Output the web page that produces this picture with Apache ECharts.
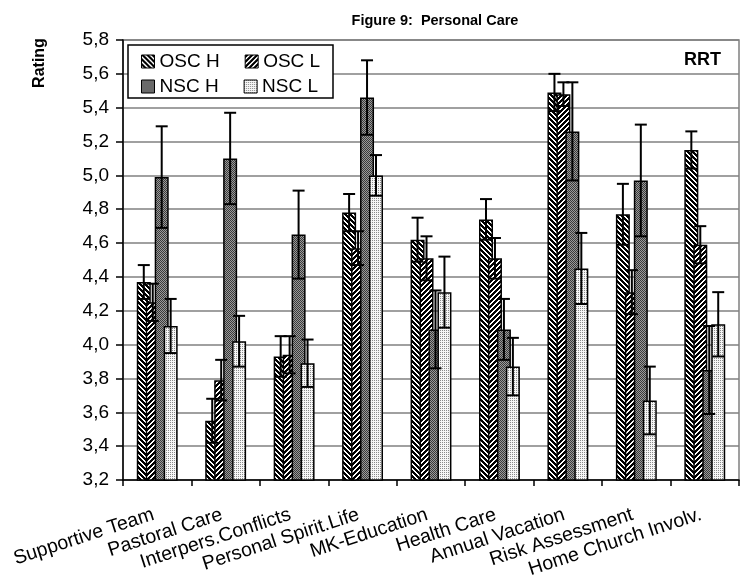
<!DOCTYPE html>
<html>
<head>
<meta charset="utf-8">
<script src="https://cdn.jsdelivr.net/npm/echarts@6/dist/echarts.min.js"></script>
<style>
html,body{margin:0;padding:0;background:#fff;}
#chart{width:742px;height:580px;}
</style>
</head>
<body>
<div id="chart"></div>
<script>
const categories = ['Supportive Team','Pastoral Care','Interpers.Conflicts','Personal Spirit.Life','MK-Education','Health Care','Annual Vacation','Risk Assessment','Home Church Involv.'];
const seriesNames = ['OSC H','OSC L','NSC H','NSC L'];
const oscH    = [4.37, 3.55, 3.93, 4.78, 4.62, 4.74, 5.49, 4.77, 5.15];
const oscHErr = [0.10, 0.13, 0.12, 0.11, 0.13, 0.12, 0.11, 0.18, 0.11];
const oscL    = [4.25, 3.79, 3.94, 4.57, 4.51, 4.51, 5.48, 4.31, 4.59];
const oscLErr = [0.11, 0.12, 0.11, 0.10, 0.13, 0.12, 0.07, 0.13, 0.11];
const nscH    = [4.99, 5.10, 4.65, 5.46, 4.09, 4.09, 5.26, 4.97, 3.85];
const nscHErr = [0.30, 0.27, 0.26, 0.22, 0.23, 0.18, 0.29, 0.33, 0.26];
const nscL    = [4.11, 4.02, 3.89, 5.00, 4.31, 3.87, 4.45, 3.67, 4.12];
const nscLErr = [0.16, 0.15, 0.14, 0.12, 0.21, 0.17, 0.21, 0.20, 0.19];
const yTicks = [3.2, 5.8, 0.2]; // min, max, interval

const FONT = '"Liberation Sans", Arial, sans-serif';

function makePattern(size, fn) {
  const c = document.createElement('canvas');
  c.width = size; c.height = size;
  const ctx = c.getContext('2d');
  for (let y = 0; y < size; y++) for (let x = 0; x < size; x++) {
    ctx.fillStyle = fn(x, y);
    ctx.fillRect(x, y, 1, 1);
  }
  return { image: c, repeat: 'repeat' };
}
const patterns = [
  makePattern(5, (x, y) => ((x - y + 10) % 5) < 3 ? '#000' : '#fff'),
  makePattern(5, (x, y) => ((x + y) % 5) < 3 ? '#000' : '#fff'),
  makePattern(2, (x, y) => ((x + y) % 2 === 0) ? '#3a3a3a' : '#9a9a9a'),
  makePattern(2, (x, y) => (x % 2 === 0 && y % 2 === 0) ? '#8a8a8a' : '#f6f6f6')
];

const values = [oscH, oscL, nscH, nscL];
const errs = [oscHErr, oscLErr, nscHErr, nscLErr];

const BAR_W = 14;
const GAP_RATIO = -0.36;
const step = BAR_W * (1 + GAP_RATIO);
const total = 4 * BAR_W + 3 * BAR_W * GAP_RATIO;
const offsets = [0,1,2,3].map(k => -total / 2 + BAR_W / 2 + k * step);

const series = [];
seriesNames.forEach((name, k) => {
  series.push({
    name: name,
    type: 'bar',
    data: values[k],
    barWidth: BAR_W,
    barGap: (GAP_RATIO * 100) + '%',
    itemStyle: { color: patterns[k], borderColor: '#000', borderWidth: 1.5 },
    emphasis: { disabled: true },
    animation: false,
    z: 2
  });
});
seriesNames.forEach((name, k) => {
  series.push({
    name: 'err ' + name,
    type: 'custom',
    data: categories.map((c, i) => [i, values[k][i], errs[k][i]]),
    encode: { x: 0, y: 1 },
    z: 5,
    animation: false,
    silent: true,
    renderItem: function (params, api) {
      const ci = api.value(0), v = api.value(1), e = api.value(2);
      const p1 = api.coord([ci, v + e]);
      const p2 = api.coord([ci, v - e]);
      const x = p1[0] + offsets[k];
      const hw = 6;
      const st = { stroke: '#000', lineWidth: 2 };
      return {
        type: 'group',
        children: [
          { type: 'line', shape: { x1: x, y1: p1[1], x2: x, y2: p2[1] }, style: st },
          { type: 'line', shape: { x1: x - hw, y1: p1[1], x2: x + hw, y2: p1[1] }, style: st },
          { type: 'line', shape: { x1: x - hw, y1: p2[1], x2: x + hw, y2: p2[1] }, style: st }
        ]
      };
    }
  });
});

const legendCommon = {
  orient: 'horizontal',
  left: 141,
  itemWidth: 13,
  itemHeight: 13,
  itemGap: 25,
  icon: 'rect',
  selectedMode: false,
  itemStyle: { borderColor: '#000', borderWidth: 1 },
  textStyle: { fontSize: 19, color: '#000', fontFamily: FONT },
  padding: 0
};

const chart = echarts.init(document.getElementById('chart'), null, { renderer: 'canvas' });
chart.setOption({
  backgroundColor: '#fff',
  animation: false,
  title: {
    text: 'Figure 9:  Personal Care',
    left: 430,
    textAlign: 'center',
    top: 8,
    textStyle: { fontSize: 14.5, fontWeight: 'bold', color: '#000', fontFamily: FONT }
  },
  legend: [
    Object.assign({}, legendCommon, { data: ['OSC H', 'OSC L'], top: 52 }),
    Object.assign({}, legendCommon, { data: ['NSC H', 'NSC L'], top: 77 })
  ],
  grid: {
    left: 123, right: 3, top: 40, bottom: 100,
    containLabel: false,
    outerBoundsMode: 'none',
    show: true, borderColor: '#808080', borderWidth: 1.5, backgroundColor: '#fff'
  },
  xAxis: {
    type: 'category',
    data: categories,
    axisLine: { show: true, lineStyle: { color: '#000', width: 1.5 } },
    axisTick: { show: true, alignWithLabel: false, interval: 0, length: 6, lineStyle: { color: '#000', width: 1.5 } },
    axisLabel: { interval: 0, rotate: 18, margin: 33, padding: [0, 4, 0, 0], fontSize: 19.5, color: '#000', fontFamily: FONT },
    splitLine: { show: false }
  },
  yAxis: {
    type: 'value',
    min: yTicks[0], max: yTicks[1], interval: yTicks[2],
    axisLine: { show: true, lineStyle: { color: '#000', width: 1.5 } },
    axisTick: { show: true, length: 7, lineStyle: { color: '#000', width: 1.5 } },
    axisLabel: {
      margin: 14, fontSize: 19, color: '#000', fontFamily: FONT,
      formatter: v => v.toFixed(1).replace('.', ',')
    },
    splitLine: { show: true, lineStyle: { color: '#808080', width: 1.5 } }
  },
  graphic: [
    {
      type: 'rect', z: 3,
      shape: { x: 128, y: 45, width: 205, height: 53 },
      style: { fill: '#fff', stroke: '#000', lineWidth: 1.5 }
    },
    {
      type: 'text', z: 3,
      x: 40, y: 63, rotation: Math.PI / 2,
      style: { text: 'Rating', fill: '#000', font: 'bold 16px ' + FONT, align: 'center', verticalAlign: 'middle' }
    },
    {
      type: 'text', z: 3,
      x: 721, y: 60,
      style: { text: 'RRT', fill: '#000', font: 'bold 18px ' + FONT, align: 'right', verticalAlign: 'middle' }
    }
  ],
  series: series
});
</script>
</body>
</html>
